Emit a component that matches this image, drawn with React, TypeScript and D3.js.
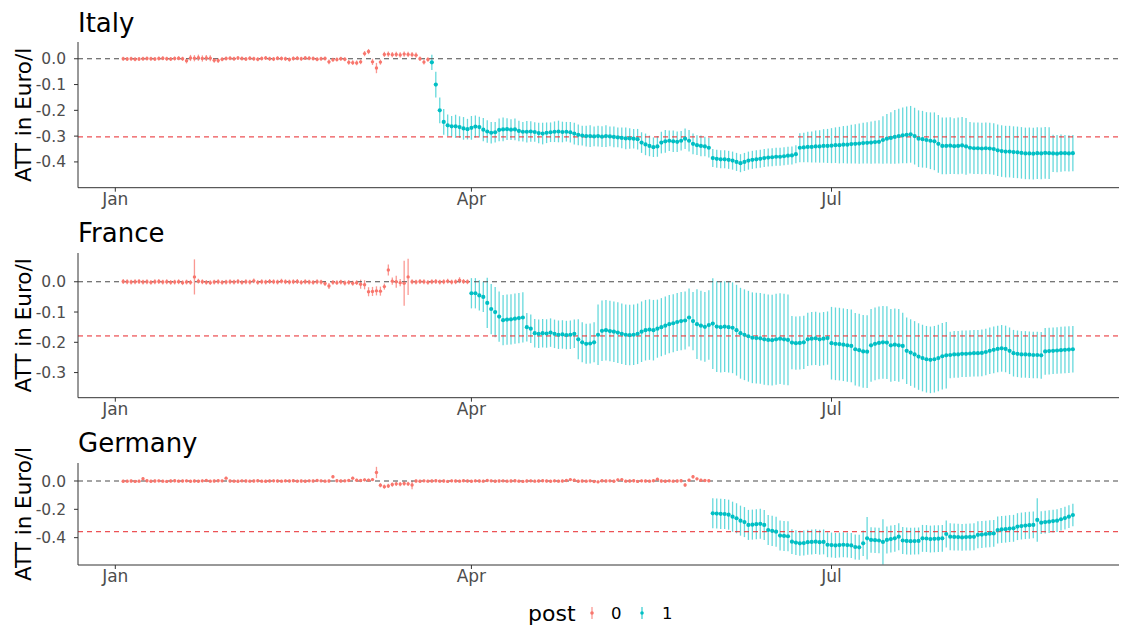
import React from "react";
import * as d3 from "d3";

// All ATT values are in milli-Euro per litre (0.001 €/l), one per day starting 2022-01-03.
const SERIES_START = "2022-01-03";
const TICK_DATES = ["2022-01-01", "2022-04-01", "2022-07-01"];
const TICK_LABELS = ["Jan", "Apr", "Jul"];

// ---------- Italy ----------
const italyTreatStart = "2022-03-22";
const italyMeanAtt = -0.303;
const italyTicks = [0, -0.1, -0.2, -0.3, -0.4];
const italyPreAtt = [
  0, -1, 0, -2, -1, 0, 1, 0, -1, 1, 2, 0, -1, 1, 2, 0,
  -8,
  3, 2, 4, 1, 3, 2,
  -6, -7,
  -2, 1, 2, 0, 3, 1, -1, 2, 0, -2, 1, 3, 0, -1, 2, 1, 0, -3, 1, 2, 0, 3, 2, 1, -2, 0, 1,
  -12,
  -4, -3, 0, -2,
  -14, -15, -16, -12,
  20, 28, -12, -36, -13,
  17, 18, 16, 17, 15, 18, 17, 16, 14,
  0, -13, -3,
];
const italyPreCi = [
  8, 8, 8, 8, 8, 8, 8, 8, 8, 8, 8, 8, 8, 8, 8, 8,
  10,
  12, 12, 12, 12, 12, 12,
  9, 9,
  8, 8, 8, 8, 8, 8, 8, 8, 8, 8, 8, 8, 8, 8, 8, 8, 8, 8, 8, 8, 8, 8, 8, 8, 8, 8, 8,
  9,
  8, 8, 8, 8,
  9, 9, 9, 9,
  10, 10, 12, 20, 10,
  10, 10, 10, 10, 10, 10, 10, 10, 10,
  9, 9, 9,
];
const italyPostAtt = [
  -14, -100, -200, -245,
  -258, -262, -262, -265, -270, -273, -268, -263, -265, -275, -282, -287, -285, -276,
  -274, -273, -275, -274,
  -280, -283, -283, -282, -284,
  -288, -290, -287, -285,
  -283, -282, -284, -283, -285, -290,
  -295, -298, -300, -300, -301, -300, -302, -300, -301, -303, -305,
  -307, -309, -309, -310, -312,
  -325, -332, -338, -343, -340,
  -325, -320, -318, -320, -322, -318, -310,
  -318, -330, -335, -338, -340, -345,
  -385, -388, -390, -390, -392, -395, -400,
  -405, -400, -395,
  -392, -390, -388, -385, -383, -382, -380, -380, -378, -376, -375, -370,
  -345, -344, -342, -342, -340, -340, -338, -338, -337, -335, -335, -333, -333, -331, -330, -329, -327, -326, -325, -323, -322,
  -315, -310, -307, -303, -300, -297, -295, -293,
  -300, -310, -312, -315, -318, -320, -330,
  -338, -338, -337, -339, -338, -336, -340,
  -345, -347, -347, -348, -347, -348, -350, -355,
  -358, -360, -360, -362, -363, -365, -367,
  -367, -368, -366, -367, -365, -366, -367, -368, -366, -366, -367, -366,
];
const italyPostCi = [
  30, 50, 50, 50,
  42, 40, 45, 42, 44, 40, 46, 43, 40, 45, 44, 42, 40, 44, 46, 42, 40, 42,
  40, 38, 42, 40, 38, 40, 42, 40, 38, 40, 42, 40, 38, 40, 42, 40, 38, 40, 42, 38, 40, 40, 42, 38, 40, 38, 40, 42, 40, 38, 40,
  40, 42, 40, 38, 40, 42, 44, 40, 42, 40, 38, 40, 42, 40, 38, 40, 38, 38,
  35, 35, 35, 35, 35, 35, 35, 35, 35, 35, 35, 35, 35, 35, 35, 35, 35, 35, 35, 35, 35, 35,
  56, 57, 59, 60, 62, 63, 65, 66, 68, 69, 71, 72, 73, 75, 76, 78, 79, 80, 82, 83, 84,
  92, 96, 100, 104, 106, 108, 110, 110,
  110, 110, 110, 108, 110, 112, 112, 110, 110, 110, 108, 110, 110, 110,
  100, 100, 100, 100, 100, 100, 100, 100, 100, 100, 100, 100, 100, 100, 100, 100, 100, 100, 100, 100, 100,
  72, 72, 72, 70, 70, 70,
];

// ---------- France ----------
const franceTreatStart = "2022-04-01";
const franceMeanAtt = -0.179;
const franceTicks = [0, -0.1, -0.2, -0.3];
const francePreAtt = [
  1, 0, -1, 0, 1, -1, 0, -2, 0, 1, -1, 0, -2, -1, 0, -3, -1, -2,
  16,
  2, 0, -2, -3, -1, 0, -2, -1, 0, -1, 1, -2, 0, -1, 3, -2, 0, -1, 1, 0, -1, 2, 0, -1, 0, 1, -2, 0, -1, -2, 0, -1, -6,
  -14,
  -2, -3, -1, -4, -2, -5, -3,
  -8, -10,
  -33, -32, -30, -31,
  -16, 39, 2, 0, -3, -5, 16,
  0, -1, 1, 0, -2, 0, 1, -1, 0, 2, -1, 0, 5, 1, 0,
];
const francePreCi = [
  8, 8, 8, 8, 8, 8, 8, 8, 8, 8, 8, 8, 8, 8, 8, 8, 8, 8,
  58,
  8, 8, 8, 8, 8, 8, 8, 8, 8, 8, 8, 8, 8, 8, 8, 8, 8, 8, 8, 8, 8, 8, 8, 8, 8, 8, 8, 8, 8, 8, 8, 8, 8,
  10,
  8, 8, 8, 8, 8, 8, 8,
  15, 15,
  15, 15, 15, 15,
  10, 18, 12, 20, 12, 74, 60,
  8, 8, 8, 8, 8, 8, 8, 8, 8, 8, 8, 8, 10, 8, 8,
];
const francePostAtt = [
  -38, -38, -45, -50,
  -70, -90, -100, -115, -127, -125, -124, -122, -120, -118,
  -150, -155, -170, -172, -170, -171, -168, -172, -175, -174, -176, -175, -172,
  -190, -200, -205, -204, -200,
  -175, -162, -160, -163, -165, -168, -172, -175, -176, -175, -172, -165, -160, -158, -160,
  -155, -150, -145, -140, -137, -133, -130, -128, -118, -130, -140, -145, -149, -143,
  -138, -148, -150, -148, -150, -152, -160, -170, -175, -180, -185, -186,
  -187, -190, -192, -193, -190, -188, -190, -192,
  -201, -203, -202, -200, -190, -188, -187, -190, -188, -186,
  -203, -205, -206, -208, -210, -212, -223, -226, -230, -231,
  -210, -205, -202, -200, -201, -210, -208, -210, -212,
  -228, -234, -240, -247, -252, -256, -258, -256, -252,
  -246, -243, -242, -240, -240, -238, -238, -237, -236, -236, -235,
  -232, -228, -225, -222, -220, -222, -228,
  -236, -238, -240, -240, -241, -242, -242, -243,
  -230, -229, -228, -227, -226, -225, -224, -223,
];
const francePostCi = [
  50, 50, 50, 50,
  83, 83, 83, 83, 83, 83, 83, 83, 83, 83,
  47, 47, 47, 47, 47, 47, 47, 47, 47, 47, 47, 47, 47,
  66, 66, 66, 66, 66,
  100, 100, 100, 100, 100, 100, 100, 100, 100, 100, 100, 100, 100, 100, 100,
  96, 96, 96, 96, 96, 96, 96, 96, 96, 96,
  115, 115, 115, 115,
  150, 150, 150, 150, 150, 150, 150, 150, 150, 150, 150, 150, 150, 150, 150, 150, 150, 150, 150, 150,
  88, 88, 88, 88, 88, 88, 88, 88, 88, 88,
  120, 120, 120, 120, 120, 120, 120, 120, 120, 120, 120, 120, 120, 120, 120, 120, 120, 120,
  110, 110, 110, 110, 110, 110, 110, 110, 110, 110, 110, 110,
  77, 77, 77, 77, 77, 77, 77, 77, 77, 77, 77, 77, 77, 77, 77, 77,
  77, 77, 77, 77, 77, 77, 77, 77, 77, 77, 77, 77, 77, 77, 77, 77,
];

// ---------- Germany ----------
const germanyTreatStart = "2022-06-01";
const germanyMeanAtt = -0.358;
const germanyTicks = [0, -0.2, -0.4];
const germanyPreAtt = [
  -2, -1, 0, -3, -1, 16, 2, -2, 0, 1, -1, -3, 0, 2, -1, 0, 1, -2,
  0, -2, 1, 3, -1, 0, 2, 1, 20, 0, -1, -2, 1, 0, -1, 0, 2, -1, -2, 0, 1,
  0, -1, 1, 0, 2, -1, 0, -2, 1, 0, 3, 1, -1, 0, 30, 2, 0, 1, 3,
  20, 5, 3, 8, 6, 10,
  60,
  -30, -40, -35,
  -25, -20, -22, -18, -20,
  -28,
  0, -2, 1, -1, 0, 2, -1, 0, -3, 1,
  0, -1, 2, 0, -2, 1, 0, -1, 3, 1,
  -2, 0, 1, -1, 0, 2, -1, -3, 0, 1,
  -1, 0, 2, 0, -2, 1, -1, 0, 3, 10,
  5, -2, 0, -1, 1, -4, -6, 2, 0, 1,
  -2, 8, 10, -1, 0, 2, -3, 1, 0, -1,
  2, 12, 0, -2, 1, -1, 0, 2,
  -28, 5, 30, 15, 5, 3, 2,
];
const germanyPreCi = [
  10, 10, 10, 10, 10, 10, 10, 10, 10, 10, 10, 10, 10, 10, 10, 10, 10, 10,
  10, 10, 10, 10, 10, 10, 10, 10, 10, 10, 10, 10, 10, 10, 10, 10, 10, 10, 10, 10, 10,
  10, 10, 10, 10, 10, 10, 10, 10, 10, 10, 10, 10, 10, 10, 10, 10, 10, 10, 10,
  10, 10, 10, 10, 10, 10,
  40,
  15, 15, 15,
  15, 15, 15, 15, 15,
  30,
  10, 10, 10, 10, 10, 10, 10, 10, 10, 10,
  10, 10, 10, 10, 10, 10, 10, 10, 10, 10,
  10, 10, 10, 10, 10, 10, 10, 10, 10, 10,
  10, 10, 10, 10, 10, 10, 10, 10, 10, 10,
  10, 10, 10, 10, 10, 10, 10, 10, 10, 10,
  10, 10, 10, 10, 10, 10, 10, 10, 10, 10,
  10, 10, 10, 10, 10, 10, 10, 10,
  12, 10, 12, 10, 10, 10, 10,
];
const germanyPostAtt = [
  -228, -230, -232, -233, -238,
  -252, -263,
  -280, -290,
  -310, -308, -305, -302, -310,
  -346, -352, -358,
  -385, -388, -390,
  -428, -435, -440, -438, -432,
  -430, -428, -432, -430,
  -450, -452, -455, -452, -450, -452, -455,
  -466, -468,
  -440, -405,
  -416, -418, -420,
  -430,
  -416, -410, -405, -393,
  -420, -423, -425, -424, -423,
  -405, -406, -410, -408, -407, -405,
  -374,
  -393, -395, -396, -398, -396, -395, -394,
  -380, -378, -375, -372, -370,
  -346, -342, -340, -336, -334,
  -322, -318, -315, -312, -310,
  -275,
  -294, -290, -287, -283, -280,
  -270, -262, -252, -240,
];
const germanyPostCi = [
  106, 106, 106, 106, 106, 106, 106, 106, 106, 106, 106, 106, 106, 106, 106, 106, 106, 106, 106, 106,
  88, 88, 88, 88, 88, 88, 88, 88, 88, 88, 88, 88, 88, 88, 88, 88, 88, 88,
  90, 150,
  90, 90, 90,
  160,
  95, 95, 95, 95, 95, 95, 95, 95, 95, 95, 95, 95, 95, 95, 95, 95, 95, 95, 95,
  95, 95, 95, 95, 95, 95, 95, 95, 95, 95, 95, 95, 95, 95, 95, 95, 95, 95, 95,
  153,
  80, 80, 80, 80, 80, 80, 80, 80, 80,
];

// ---------- styling / layout ----------
const PRE_COLOR = "#F8766D";
const POST_COLOR = "#00BFC4";
const FONT = "'DejaVu Sans', Verdana, sans-serif";
const PANEL_LEFT = 78;
const PANEL_RIGHT = 1119;

const panelDefs = [
  { name: "Italy", pre: italyPreAtt, preCi: italyPreCi, post: italyPostAtt, postCi: italyPostCi,
    treat: italyTreatStart, mean: italyMeanAtt, ticks: italyTicks, domain: [-0.5, 0.065], top: 42, bottom: 187.7, titleY: 32 },
  { name: "France", pre: francePreAtt, preCi: francePreCi, post: francePostAtt, postCi: francePostCi,
    treat: franceTreatStart, mean: franceMeanAtt, ticks: franceTicks, domain: [-0.383, 0.095], top: 253, bottom: 397.7, titleY: 242 },
  { name: "Germany", pre: germanyPreAtt, preCi: germanyPreCi, post: germanyPostAtt, postCi: germanyPostCi,
    treat: germanyTreatStart, mean: germanyMeanAtt, ticks: germanyTicks, domain: [-0.593, 0.127], top: 463, bottom: 565, titleY: 452 },
];

const parse = (s: string) => new Date(s + "T00:00:00Z");

const x = d3
  .scaleUtc()
  .domain([parse("2022-01-01"), parse("2022-07-01")])
  .range([115.3, 831.5]);

type Pt = { date: Date; v: number; ci: number; post: number };

function buildSeries(p: any): Pt[] {
  const start = parse(SERIES_START);
  const all = [...p.pre, ...p.post];
  const cis = [...p.preCi, ...p.postCi];
  const treat = parse(p.treat);
  return all.map((v: number, i: number) => {
    const date = d3.utcDay.offset(start, i);
    return { date, v: v / 1000, ci: cis[i] / 1000, post: date >= treat ? 1 : 0 };
  });
}

function Panel({ p }: { p: any }) {
  const y = d3.scaleLinear().domain(p.domain).range([p.bottom, p.top]);
  const data = buildSeries(p);
  const fmt = (t: number) => (Math.abs(t) < 1e-9 ? "0.0" : t.toFixed(1));
  const midY = (p.top + p.bottom) / 2;
  return (
    <g>
      <text x={PANEL_LEFT} y={p.titleY} fontSize={26} fill="#000">{p.name}</text>
      <text transform={`translate(31,${midY}) rotate(-90)`} textAnchor="middle" fontSize={21.5} fill="#000">
        ATT in Euro/l
      </text>
      {/* error bars */}
      {data.map((d, i) => (
        <line key={"e" + i} x1={x(d.date)} x2={x(d.date)} y1={y(d.v - d.ci)} y2={y(d.v + d.ci)}
          stroke={d.post ? POST_COLOR : PRE_COLOR} strokeWidth={1.3} strokeOpacity={d.post ? 0.6 : 0.75} />
      ))}
      {/* reference lines */}
      <line x1={PANEL_LEFT} x2={PANEL_RIGHT} y1={y(0)} y2={y(0)} stroke="#4a4a4a" strokeWidth={1.1} strokeDasharray="5 4" />
      <line x1={PANEL_LEFT} x2={PANEL_RIGHT} y1={y(p.mean)} y2={y(p.mean)} stroke="#E8262B" strokeWidth={1} strokeDasharray="5 4" />
      {/* points */}
      {data.map((d, i) => (
        <circle key={"p" + i} cx={x(d.date)} cy={y(d.v)} r={d.post ? 2.1 : 1.7} fill={d.post ? POST_COLOR : PRE_COLOR} />
      ))}
      {/* axes */}
      <line x1={PANEL_LEFT} x2={PANEL_LEFT} y1={p.top} y2={p.bottom} stroke="#333" strokeWidth={1} />
      <line x1={PANEL_LEFT} x2={PANEL_RIGHT} y1={p.bottom} y2={p.bottom} stroke="#333" strokeWidth={1} />
      {p.ticks.map((t: number) => (
        <g key={"yt" + t}>
          <line x1={PANEL_LEFT - 4} x2={PANEL_LEFT} y1={y(t)} y2={y(t)} stroke="#333" />
          <text x={PANEL_LEFT - 12} y={y(t)} dy="0.36em" textAnchor="end" fontSize={15.5} fill="#4D4D4D">
            {fmt(t)}
          </text>
        </g>
      ))}
      {TICK_DATES.map((s, i) => (
        <g key={"xt" + s}>
          <line x1={x(parse(s))} x2={x(parse(s))} y1={p.bottom} y2={p.bottom + 4} stroke="#333" />
          <text x={x(parse(s))} y={p.bottom + 17} textAnchor="middle" fontSize={17} fill="#4D4D4D">
            {TICK_LABELS[i]}
          </text>
        </g>
      ))}
    </g>
  );
}

export default function App() {
  return (
    <svg width={1122} height={629} style={{ position: "absolute", left: 0, top: 0, background: "#fff" }} fontFamily={FONT}>
      <rect width={1122} height={629} fill="#fff" />
      {panelDefs.map((p) => (
        <Panel key={p.name} p={p} />
      ))}
      {/* legend */}
      <g>
        <text x={528} y={621} fontSize={22} fill="#000">post</text>
        <line x1={592} x2={592} y1={607} y2={619} stroke={PRE_COLOR} strokeWidth={1.3} strokeOpacity={0.75} />
        <circle cx={592} cy={613} r={1.8} fill={PRE_COLOR} />
        <text x={611} y={619} fontSize={16.5} fill="#000">0</text>
        <line x1={642} x2={642} y1={607} y2={619} stroke={POST_COLOR} strokeWidth={1.3} strokeOpacity={0.75} />
        <circle cx={642} cy={613} r={1.8} fill={POST_COLOR} />
        <text x={662} y={619} fontSize={16.5} fill="#000">1</text>
      </g>
    </svg>
  );
}
